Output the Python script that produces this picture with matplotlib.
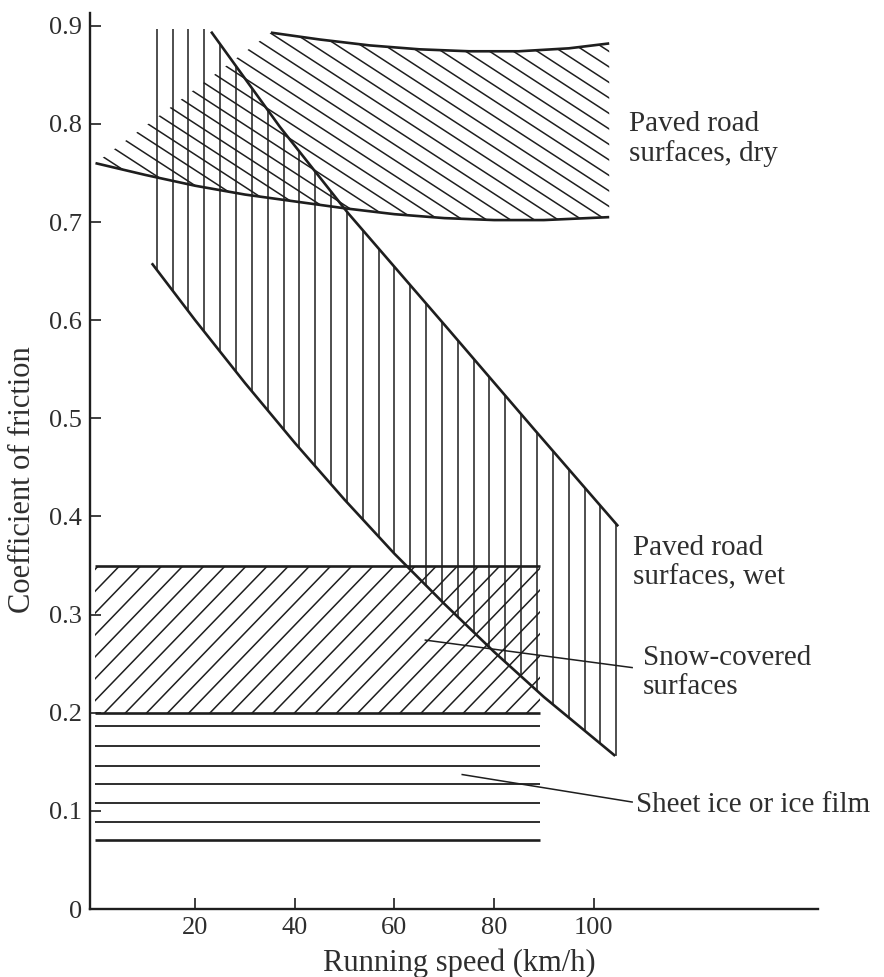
import numpy as np
import matplotlib
matplotlib.use("Agg")
import matplotlib.pyplot as plt
from matplotlib.patches import Polygon
from matplotlib.collections import LineCollection

# ---- data: running speed (km/h) vs coefficient of friction ----
dry_upper_speed = [35.2, 45.0, 55.0, 65.0, 75.0, 85.0, 95.0, 103.1]
dry_upper_mu = [0.893, 0.886, 0.880, 0.876, 0.874, 0.874, 0.877, 0.882]
dry_lower_speed = [0.0, 10.0, 20.0, 30.0, 40.0, 50.0, 60.0, 70.0, 80.0, 90.0, 103.1]
dry_lower_mu = [0.760, 0.748, 0.737, 0.728, 0.721, 0.714, 0.708, 0.704, 0.702, 0.702, 0.705]

wet_upper_speed = [23.2, 37.0, 50.7, 70.6, 88.0, 104.9]
wet_upper_mu = [0.894, 0.797, 0.709, 0.592, 0.489, 0.390]
wet_lower_speed = [11.3, 20.0, 30.0, 40.0, 50.0, 60.0, 70.0, 80.0, 90.0, 104.3]
wet_lower_mu = [0.658, 0.600, 0.536, 0.475, 0.417, 0.362, 0.311, 0.262, 0.216, 0.156]
wet_left_speed = 12.3
wet_right_speed = 104.5
wet_top_mu = 0.897

snow_speed = [0.0, 89.3]
snow_mu = [0.20, 0.35]

ice_speed = [0.0, 89.3]
ice_mu = [0.070, 0.089, 0.108, 0.127, 0.146, 0.166, 0.186]

x_ticks = [20, 40, 60, 80, 100]
y_ticks = [0, 0.1, 0.2, 0.3, 0.4, 0.5, 0.6, 0.7, 0.8, 0.9]
y_tick_labels = ["0", "0.1", "0.2", "0.3", "0.4", "0.5", "0.6", "0.7", "0.8", "0.9"]

labels = {
    "dry": ("Paved road\nsurfaces, dry", 107.1, 0.785),
    "wet": ("Paved road\nsurfaces, wet", 107.9, 0.353),
    "snow": ("Snow-covered\nsurfaces", 109.9, 0.241),
    "ice": ("Sheet ice or ice film", 108.5, 0.106),
}
snow_leader = ([66.2, 107.7], [0.274, 0.246])
ice_leader = ([73.6, 107.7], [0.137, 0.109])

# ---- style ----
INK = "#1e1e1e"
TEXT = "#2e2e2e"
plt.rcParams["font.family"] = ["Liberation Serif", "DejaVu Serif"]

fig = plt.figure(figsize=(8.84, 9.77), dpi=100)
ax = fig.add_axes([90 / 884, 68 / 977, (818 - 90) / 884, (964 - 68) / 977])
ax.set_xlim(-1.1, 145)
ax.set_ylim(0, 0.913)


def hatch(poly_xy, angle_deg, spacing_px, lw, phase=0.0):
    """Fill a polygon with parallel lines at a given on-screen angle."""
    poly_xy = np.asarray(poly_xy, dtype=float)
    patch = Polygon(poly_xy, closed=True, fill=False, edgecolor="none",
                    transform=ax.transData)
    ax.add_patch(patch)
    pts = ax.transData.transform(poly_xy)
    th = np.deg2rad(angle_deg)
    d = np.array([np.cos(th), np.sin(th)])
    n = np.array([-np.sin(th), np.cos(th)])
    pn = pts @ n
    pd = pts @ d
    k0 = np.floor((pn.min() - phase) / spacing_px)
    k1 = np.ceil((pn.max() - phase) / spacing_px)
    inv = ax.transData.inverted()
    segs = []
    for k in np.arange(k0, k1 + 1):
        o = phase + k * spacing_px
        a = o * n + (pd.min() - 5) * d
        b = o * n + (pd.max() + 5) * d
        segs.append(inv.transform(np.array([a, b])))
    lc = LineCollection(segs, colors=INK, linewidths=lw, transform=ax.transData,
                        capstyle="butt")
    lc.set_clip_path(patch)
    ax.add_collection(lc)


# dry pavement band: diagonal hatch falling to the right
dry_poly = list(zip(dry_lower_speed, dry_lower_mu)) + \
    list(zip(dry_upper_speed[::-1], dry_upper_mu[::-1]))
hatch(dry_poly, -33, 13.0, 1.1, phase=3.0)

# wet pavement band: vertical hatch
wet_poly = ([(wet_left_speed - 0.6, wet_top_mu), (wet_upper_speed[0], wet_top_mu)]
            + list(zip(wet_upper_speed, wet_upper_mu))
            + [(wet_right_speed + 0.8, wet_upper_mu[-1]), (wet_right_speed + 0.8, wet_lower_mu[-1])]
            + list(zip(wet_lower_speed[::-1], wet_lower_mu[::-1]))
            + [(wet_left_speed - 0.6, wet_lower_mu[0])])
wet_patch = Polygon(wet_poly, closed=True, fill=False, edgecolor="none")
ax.add_patch(wet_patch)
n_vert = 30
vx = np.linspace(wet_left_speed, wet_right_speed, n_vert)
vlines = ax.vlines(vx, 0.0, wet_top_mu, colors=INK, linewidth=1.1)
vlines.set_clip_path(wet_patch)

# snow band: diagonal hatch rising to the right
snow_poly = [(snow_speed[0], snow_mu[0]), (snow_speed[1], snow_mu[0]),
             (snow_speed[1], snow_mu[1]), (snow_speed[0], snow_mu[1])]
hatch(snow_poly, 46, 15.2, 1.1, phase=2.0)

# boundary curves
for xs, ys in ((dry_upper_speed, dry_upper_mu), (dry_lower_speed, dry_lower_mu),
               (wet_upper_speed, wet_upper_mu), (wet_lower_speed, wet_lower_mu)):
    ax.plot(xs, ys, color=INK, lw=1.9, solid_capstyle="butt", solid_joinstyle="round")
for mu in snow_mu:
    ax.plot(snow_speed, [mu, mu], color=INK, lw=1.9, solid_capstyle="butt")

# ice band: horizontal rules, the lowest one heavier
for i, mu in enumerate(ice_mu):
    ax.plot(ice_speed, [mu, mu], color=INK, lw=1.9 if i == 0 else 1.3,
            solid_capstyle="butt")

# leaders and labels
ax.plot(*snow_leader, color=INK, lw=1.1)
ax.plot(*ice_leader, color=INK, lw=1.1)
for text, x, y in labels.values():
    ax.text(x, y, text, ha="left", va="center", fontsize=21, color=TEXT,
            linespacing=1.15)

# axes
for side in ("top", "right"):
    ax.spines[side].set_visible(False)
for side in ("left", "bottom"):
    ax.spines[side].set_linewidth(1.7)
    ax.spines[side].set_color(INK)
ax.set_xticks(x_ticks)
ax.set_yticks(y_ticks)
ax.set_yticklabels(y_tick_labels)
ax.tick_params(direction="in", length=8, width=1.2, color=INK,
               labelsize=19, labelcolor=TEXT)
ax.tick_params(axis="y", pad=6)
ax.tick_params(axis="x", pad=6)

ax.set_xlabel("Running speed (km/h)", fontsize=22, color=TEXT)
ax.set_ylabel("Coefficient of friction", fontsize=22, color=TEXT)
ax.xaxis.label.set_va("center")
ax.yaxis.label.set_va("center")
ax.xaxis.set_label_coords(0.507, -(963 - 909) / 896)
ax.yaxis.set_label_coords(-(90 - 22) / 728, (909 - 480) / 896)

fig.savefig("out.png", dpi=100)
